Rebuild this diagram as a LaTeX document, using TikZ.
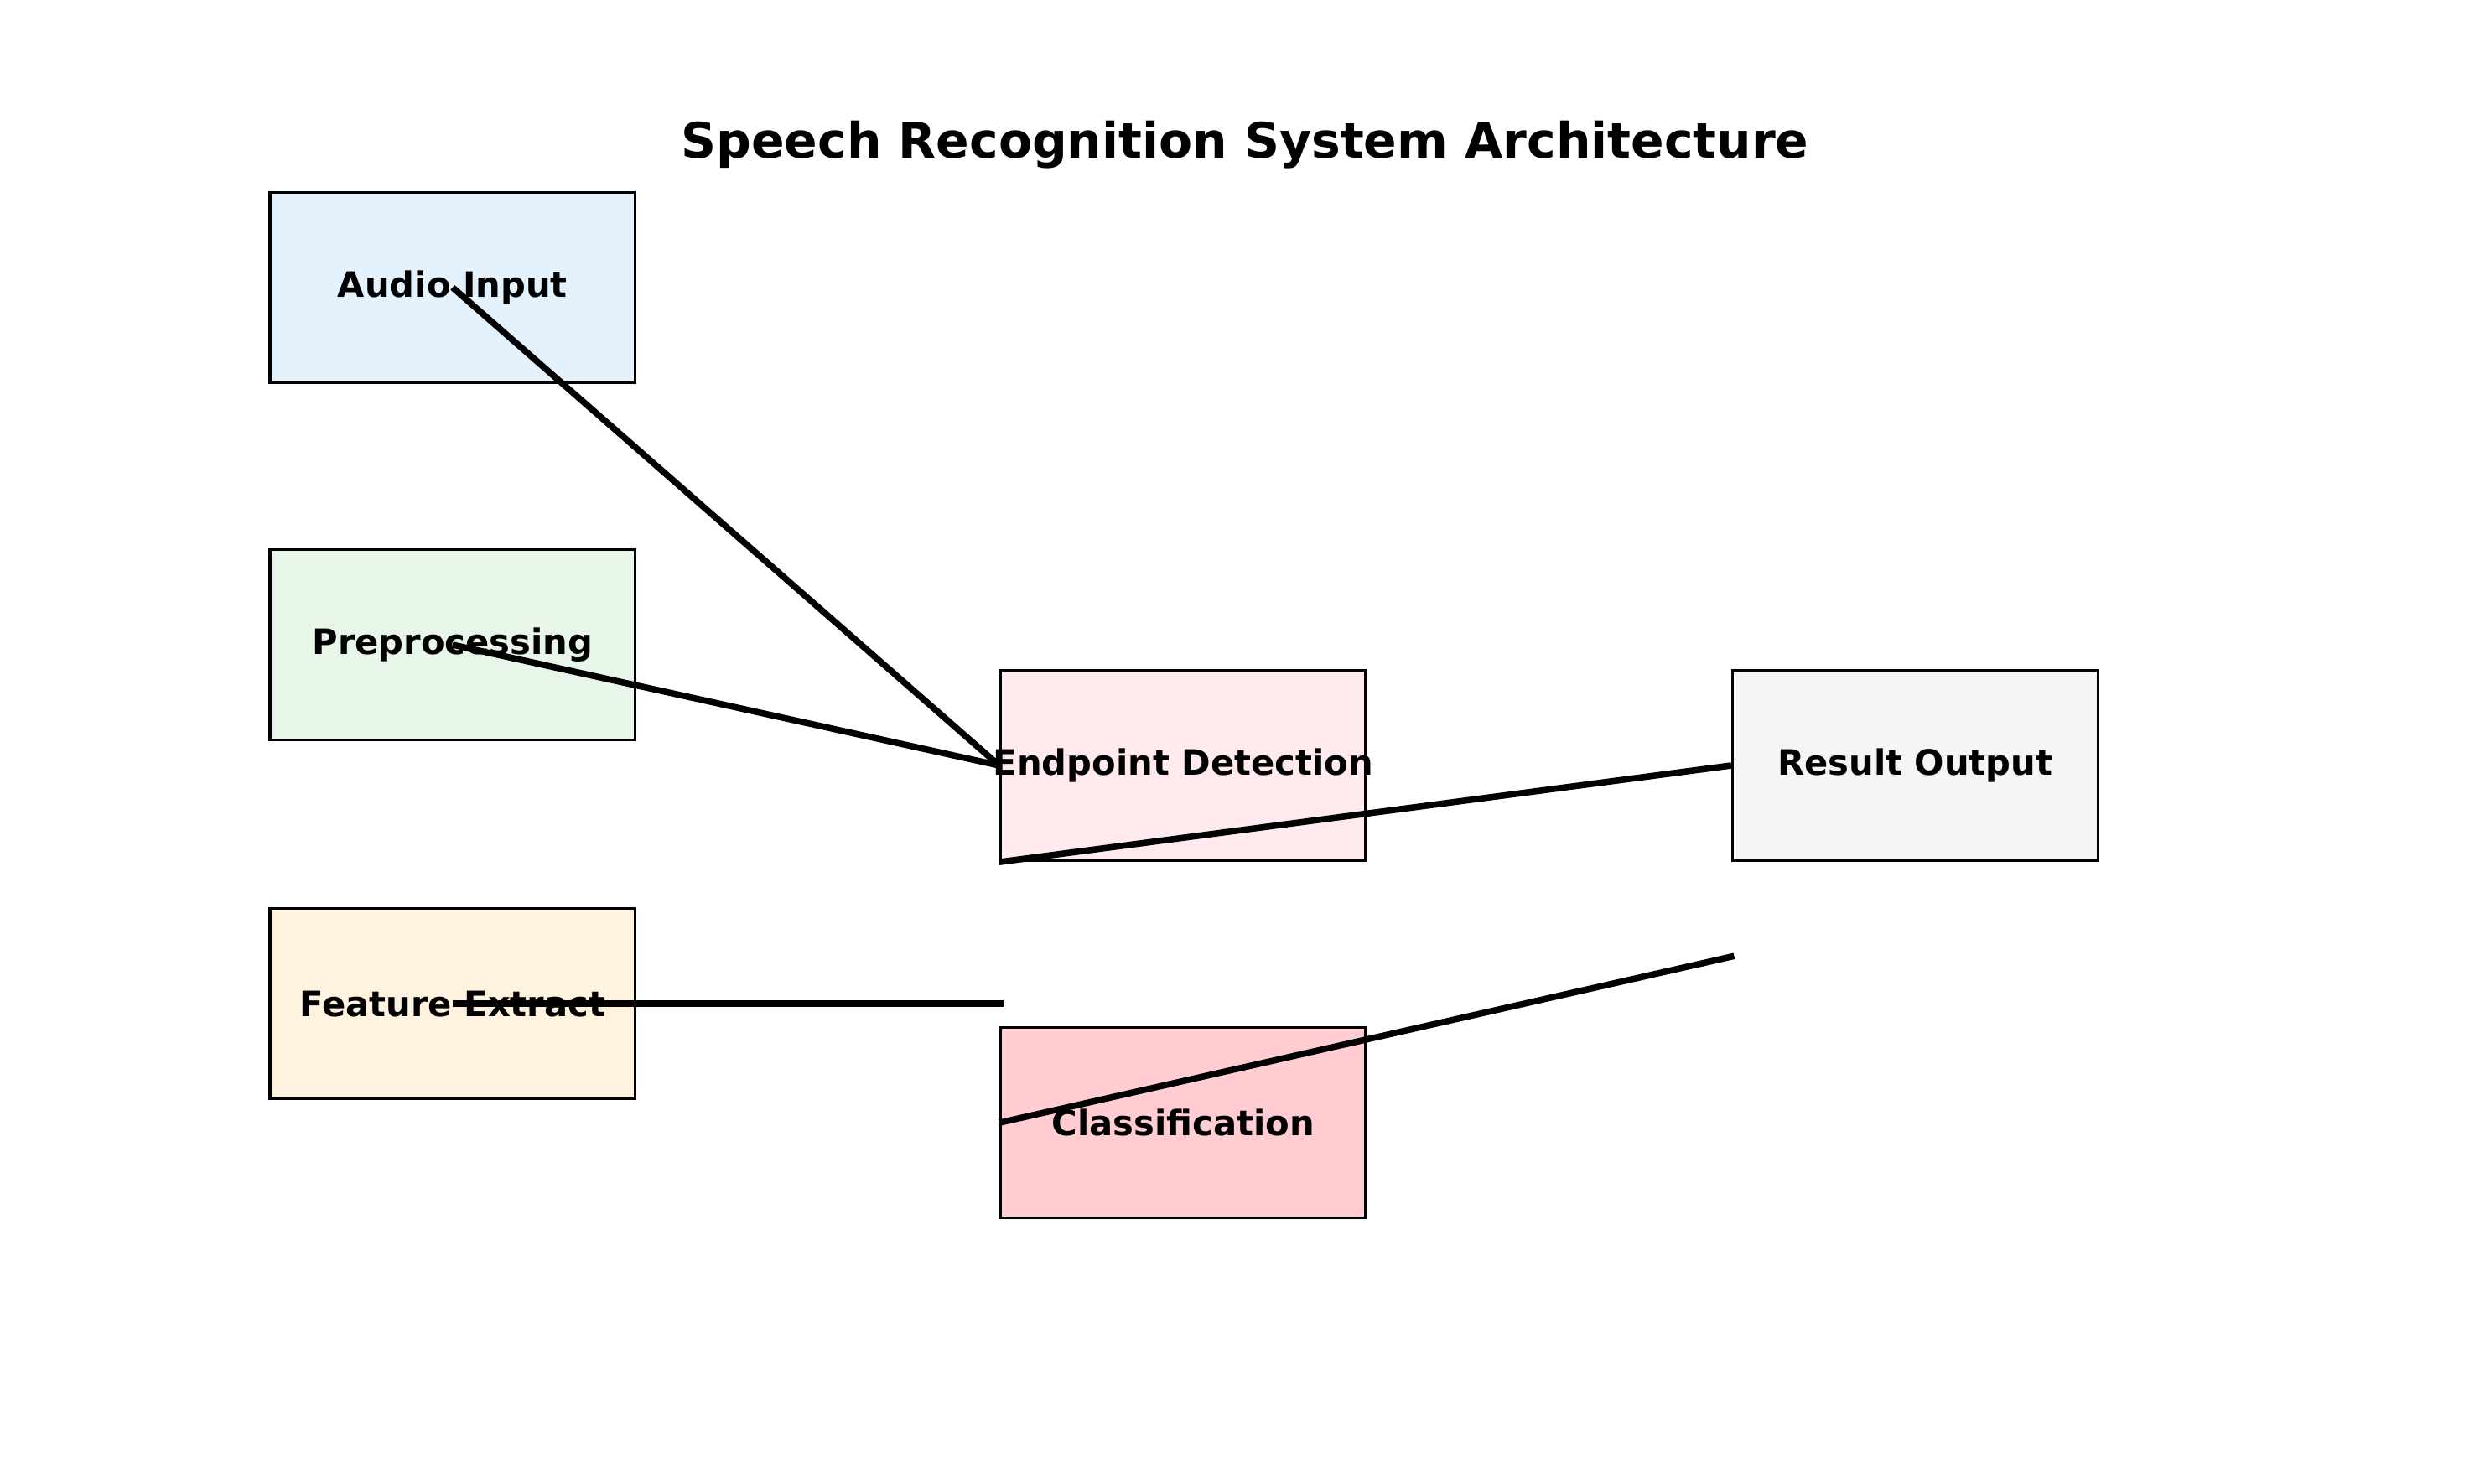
\documentclass[tikz,border=0pt]{standalone}
\usepackage{fontspec}
\setmainfont{DejaVu Sans}
\usetikzlibrary{positioning}
\definecolor{audioblue}{HTML}{E3F2FD}
\definecolor{preprocgreen}{HTML}{E8F5E9}
\definecolor{featureorange}{HTML}{FFF3E0}
\definecolor{endpointpink}{HTML}{FFEBEE}
\definecolor{classred}{HTML}{FFCDD2}
\definecolor{resultgrey}{HTML}{F5F5F5}

\begin{document}
\begin{tikzpicture}[x=0.5pt, y=-0.5pt,
    block/.style={rectangle, draw, line width=0.8pt, minimum width=115pt, minimum height=60pt, inner xsep=-6pt, inner ysep=0pt, font=\fontsize{11}{13}\selectfont\bfseries},
    link/.style={line width=2pt}]
    \useasboundingbox (0,0) rectangle (1568,934);
    \node [font=\fontsize{15.4}{18}\selectfont\bfseries] (title) at (784,91) {Speech Recognition System Architecture};
    \node [block, fill=audioblue] (audio) at (285,181) {Audio Input};
    \node [block, fill=preprocgreen] (preproc) at (285,406) {Preprocessing};
    \node [block, fill=featureorange] (feature) at (285,632) {Feature Extract};
    \node [block, fill=endpointpink] (endpoint) at (745,482) {Endpoint Detection};
    \node [block, fill=classred] (classify) at (745,707) {Classification};
    \node [block, fill=resultgrey] (result) at (1206,482) {Result Output};
    \coordinate (featureend) at (632,632);
    \coordinate (classend) at (1092,602);
    \draw[link] (audio.center) -- (endpoint.west);
    \draw[link] (preproc.center) -- (endpoint.west);
    \draw[link] (feature.center) -- (featureend);
    \draw[link] (endpoint.south west) -- (result.west);
    \draw[link] (classify.west) -- (classend);
\end{tikzpicture}
\end{document}
